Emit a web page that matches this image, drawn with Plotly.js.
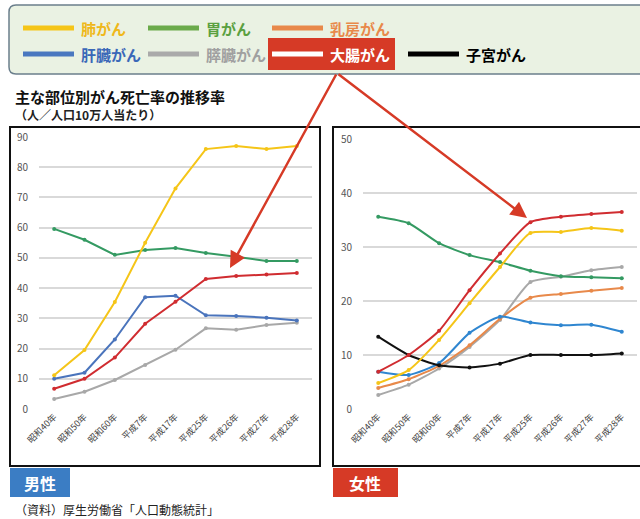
<!DOCTYPE html>
<html><head><meta charset="utf-8">
<script src="https://cdn.plot.ly/plotly-3.0.1.min.js"></script>
<style>html,body{margin:0;padding:0;background:#fff;}#chart{width:640px;height:519px;}</style>
</head><body><div id="chart"></div>
<script>
const years = ['昭和40年','昭和50年','昭和60年','平成7年','平成17年','平成25年','平成26年','平成27年','平成28年'];
// 男性
const maleLung     = [11.2, 19.5, 35.4, 55.0, 73.0, 86.0, 87.0, 86.0, 87.0];
const maleStomach  = [59.6, 56.0, 51.0, 52.6, 53.3, 51.6, 50.4, 49.0, 49.0];
const maleLiver    = [10.0, 12.0, 23.0, 37.0, 37.5, 31.0, 30.8, 30.2, 29.3];
const maleColon    = [6.7, 10.0, 17.0, 28.2, 35.5, 43.0, 44.0, 44.5, 45.0];
const malePancreas = [3.3, 5.7, 9.6, 14.6, 19.6, 26.7, 26.2, 27.8, 28.5];
// 女性
const femLung      = [4.8, 7.2, 12.8, 19.6, 26.3, 32.6, 32.8, 33.5, 33.0];
const femStomach   = [35.6, 34.4, 30.7, 28.5, 27.2, 25.6, 24.6, 24.4, 24.2];
const femBreast    = [3.9, 5.5, 8.0, 11.8, 16.7, 20.6, 21.3, 21.9, 22.4];
const femLiver     = [6.9, 6.3, 8.5, 14.1, 17.1, 16.0, 15.5, 15.6, 14.3];
const femPancreas  = [2.6, 4.5, 7.5, 11.5, 16.5, 23.5, 24.5, 25.7, 26.3];
const femColon     = [6.9, 10.0, 14.5, 22.0, 28.8, 34.6, 35.6, 36.1, 36.5];
const femUterus    = [13.4, 10.0, 8.1, 7.7, 8.4, 10.0, 10.0, 10.0, 10.3];

const legendNames = ['肺がん','胃がん','乳房がん','肝臓がん','膵臓がん','大腸がん','子宮がん'];
const C = {lung:'#f5c518', stomach:'#349a62', breast:'#e8894a', liver:'#4a74bc', pancreas:'#a8a8a8', colon:'#d02c30', uterus:'#111111'};

const W=640,H=519;
const px=x=>x/W, py=y=>1-y/H;
const FONT='"Noto Sans CJK JP", "Noto Sans", sans-serif';

function tr(y, color, xa, ya, name, shape){
  return {x: years, y: y, type:'scatter', mode:'lines+markers', name: name,
    xaxis: xa, yaxis: ya, line:{color: color, width: 2, shape: shape||'linear', smoothing:0.6},
    marker:{size:4, color: color}, showlegend:false, hoverinfo:'skip'};
}
const data = [
  tr(malePancreas, C.pancreas,'x','y','膵臓がん'),
  tr(maleStomach, C.stomach,'x','y','胃がん'),
  tr(maleLiver, C.liver,'x','y','肝臓がん'),
  tr(maleLung, C.lung,'x','y','肺がん'),
  tr(maleColon, C.colon,'x','y','大腸がん'),
  tr(femPancreas, C.pancreas,'x2','y2','膵臓がん','spline'),
  tr(femBreast, C.breast,'x2','y2','乳房がん','spline'),
  tr(femStomach, C.stomach,'x2','y2','胃がん','spline'),
  tr(femLiver, '#2f86d0','x2','y2','肝臓がん','spline'),
  tr(femUterus, C.uterus,'x2','y2','子宮がん','spline'),
  tr(femLung, C.lung,'x2','y2','肺がん','spline'),
  tr(femColon, C.colon,'x2','y2','大腸がん','spline'),
];

const tickfont={family:FONT,size:9,color:'#444'};
function xax(d0,d1){return {domain:[px(d0),px(d1)], type:'category', range:[-0.5,8.5], tickangle:-45,
  tickfont:tickfont, showgrid:false, zeroline:false, showline:false, ticks:'', fixedrange:true};}
function yax(d0,d1,max,anchor){return {domain:[py(d1),py(d0)], range:[0,max], dtick:10, tickfont:{family:FONT,size:10,color:'#555'},
  gridcolor:'#d9d9d9', gridwidth:2, zeroline:false, showline:false, ticks:'', anchor:anchor, fixedrange:true, ticklabelstandoff:10};}

const shapes=[];
const annotations=[];
// legend box
shapes.push({type:'path', xref:'paper', yref:'paper',
  path:`M ${px(16)} ${py(5)} L ${px(660)} ${py(5)} L ${px(660)} ${py(74)} L ${px(16)} ${py(74)} Q ${px(9)} ${py(74)} ${px(9)} ${py(67)} L ${px(9)} ${py(12)} Q ${px(9)} ${py(5)} ${px(16)} ${py(5)} Z`,
  fillcolor:'#eaf2e3', line:{color:'#6b7f8c', width:1.5}, layer:'below'});
// red highlight box
shapes.push({type:'rect', xref:'paper', yref:'paper', x0:px(268), x1:px(395), y0:py(38), y1:py(70), fillcolor:'#d63a26', line:{width:0}});
const legItems=[
  {n:0,x:23,y:28,c:C.lung,tc:'#efb81a'},
  {n:1,x:148,y:28,c:'#6aaa4a',tc:'#5aa040'},
  {n:2,x:272,y:28,c:C.breast,tc:'#e8894a'},
  {n:3,x:23,y:54,c:'#4a78c0',tc:'#3a68b8'},
  {n:4,x:148,y:54,c:'#aaaaaa',tc:'#a0a0a0'},
  {n:5,x:272,y:54,c:'#ffffff',tc:'#ffffff'},
  {n:6,x:408,y:54,c:'#000000',tc:'#000000'},
];
legItems.forEach(it=>{
  shapes.push({type:'line', xref:'paper', yref:'paper', x0:px(it.x), x1:px(it.x+51), y0:py(it.y), y1:py(it.y), line:{color:it.c, width:5}});
  annotations.push({xref:'paper', yref:'paper', x:px(it.x+56), y:py(it.y), xanchor:'left', yanchor:'middle', showarrow:false,
    text:'<b>'+legendNames[it.n]+'</b>', font:{family:FONT, size:15, color:it.tc}});
});
// panel frames
shapes.push({type:'rect', xref:'paper', yref:'paper', x0:px(10), x1:px(320), y0:py(127), y1:py(466), line:{color:'#111', width:2}, fillcolor:'rgba(0,0,0,0)', layer:'below'});
shapes.push({type:'rect', xref:'paper', yref:'paper', x0:px(333), x1:px(645), y0:py(127), y1:py(466), line:{color:'#111', width:2}, fillcolor:'rgba(0,0,0,0)', layer:'below'});
// gender labels
shapes.push({type:'rect', xref:'paper', yref:'paper', x0:px(10), x1:px(70), y0:py(468), y1:py(497), fillcolor:'#3b7dc4', line:{width:0}});
shapes.push({type:'rect', xref:'paper', yref:'paper', x0:px(333), x1:px(398), y0:py(468), y1:py(497), fillcolor:'#d63a26', line:{width:0}});
annotations.push({xref:'paper', yref:'paper', x:px(40), y:py(483), xanchor:'center', yanchor:'middle', showarrow:false, text:'<b>男性</b>', font:{family:FONT,size:16,color:'#ffffff'}});
annotations.push({xref:'paper', yref:'paper', x:px(365), y:py(483), xanchor:'center', yanchor:'middle', showarrow:false, text:'<b>女性</b>', font:{family:FONT,size:16,color:'#ffffff'}});
// titles
annotations.push({xref:'paper', yref:'paper', x:px(13), y:py(96), xanchor:'left', yanchor:'middle', showarrow:false,
  text:'<b>主な部位別がん死亡率の推移率</b>', font:{family:FONT,size:15,color:'#111'}});
annotations.push({xref:'paper', yref:'paper', x:px(13), y:py(114), xanchor:'left', yanchor:'middle', showarrow:false,
  text:'<b>（人／人口10万人当たり）</b>', font:{family:FONT,size:12,color:'#222'}});
annotations.push({xref:'paper', yref:'paper', x:px(13), y:py(509), xanchor:'left', yanchor:'middle', showarrow:false,
  text:'（資料）厚生労働省「人口動態統計」', font:{family:FONT,size:12,color:'#222'}});
// arrows
annotations.push({xref:'paper', yref:'paper', x:px(230), y:py(268), ax:107, ay:-195, axref:'pixel', ayref:'pixel', showarrow:true,
  arrowhead:2, arrowsize:1.3, arrowwidth:2.5, arrowcolor:'#d63a26', text:''});
annotations.push({xref:'paper', yref:'paper', x:px(527), y:py(218), ax:-190, ay:-145, axref:'pixel', ayref:'pixel', showarrow:true,
  arrowhead:2, arrowsize:1.3, arrowwidth:2.5, arrowcolor:'#d63a26', text:''});

const layout={width:W, height:H, margin:{l:0,r:0,t:0,b:0}, paper_bgcolor:'#fff', plot_bgcolor:'rgba(0,0,0,0)',
  font:{family:FONT}, showlegend:false,
  xaxis: xax(39,312), yaxis: yax(137,409,90,'x'),
  xaxis2: Object.assign(xax(363,637),{anchor:'y2'}), yaxis2: yax(139,409,50,'x2'),
  shapes:shapes, annotations:annotations};
layout.xaxis.anchor='y';
Plotly.newPlot('chart', data, layout, {displayModeBar:false, staticPlot:true});
</script></body></html>
